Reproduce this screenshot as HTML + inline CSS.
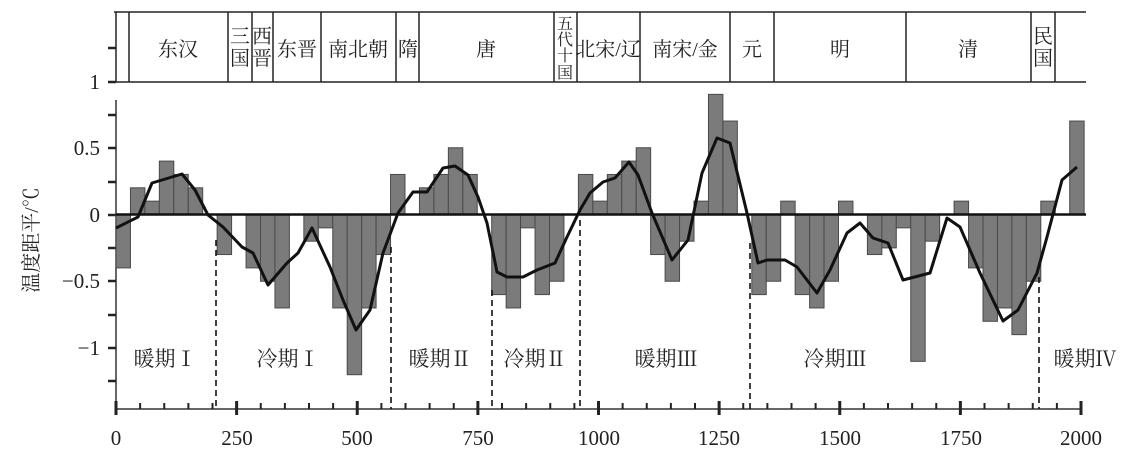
<!DOCTYPE html>
<html><head><meta charset="utf-8"><style>
html,body{margin:0;padding:0;background:#fff;}
svg{display:block;}
text{font-family:"Liberation Serif","Noto Serif CJK SC",serif;fill:#222;}
</style></head><body>
<svg width="1125" height="455" viewBox="0 0 1125 455" xmlns="http://www.w3.org/2000/svg">
<g stroke="#222" stroke-width="1.5" fill="none">
<line x1="114" y1="12" x2="1086" y2="12"/>
<line x1="114" y1="82" x2="1086" y2="82"/>
<line x1="116" y1="12" x2="116" y2="82"/>
<line x1="129" y1="12" x2="129" y2="82"/>
<line x1="228" y1="12" x2="228" y2="82"/>
<line x1="252" y1="12" x2="252" y2="82"/>
<line x1="273" y1="12" x2="273" y2="82"/>
<line x1="321" y1="12" x2="321" y2="82"/>
<line x1="396" y1="12" x2="396" y2="82"/>
<line x1="419" y1="12" x2="419" y2="82"/>
<line x1="554" y1="12" x2="554" y2="82"/>
<line x1="577" y1="12" x2="577" y2="82"/>
<line x1="640" y1="12" x2="640" y2="82"/>
<line x1="730" y1="12" x2="730" y2="82"/>
<line x1="774" y1="12" x2="774" y2="82"/>
<line x1="906" y1="12" x2="906" y2="82"/>
<line x1="1031" y1="12" x2="1031" y2="82"/>
<line x1="1055" y1="12" x2="1055" y2="82"/>
</g>
<g font-size="20" text-anchor="middle">
<text x="178" y="56">东汉</text>
<text x="297" y="56">东晋</text>
<text x="358" y="56">南北朝</text>
<text x="408" y="56">隋</text>
<text x="486" y="56">唐</text>
<text x="608" y="56">北宋/辽</text>
<text x="685" y="56">南宋/金</text>
<text x="752" y="56">元</text>
<text x="840" y="56">明</text>
<text x="968" y="56">清</text>
<text x="240" y="43">三</text><text x="240" y="65">国</text>
<text x="262" y="43">西</text><text x="262" y="65">晋</text>
<text x="1043" y="43">民</text><text x="1043" y="65">国</text>
</g>
<g font-size="16" text-anchor="middle">
<text x="565" y="29">五</text><text x="565" y="45">代</text><text x="565" y="61">十</text><text x="565" y="78">国</text>
</g>
<g stroke="#333" stroke-width="1.5">
<line x1="116" y1="100" x2="116" y2="409"/>
<line x1="116" y1="409" x2="1082" y2="409"/>
</g>
<g stroke="#222" stroke-width="2.5">
<line x1="108" y1="48" x2="116" y2="48"/>
<line x1="108" y1="82" x2="116" y2="82"/>
<line x1="108" y1="115" x2="116" y2="115"/>
<line x1="108" y1="148" x2="116" y2="148"/>
<line x1="108" y1="182" x2="116" y2="182"/>
<line x1="108" y1="215" x2="116" y2="215"/>
<line x1="108" y1="248" x2="116" y2="248"/>
<line x1="108" y1="281" x2="116" y2="281"/>
<line x1="108" y1="315" x2="116" y2="315"/>
<line x1="108" y1="348" x2="116" y2="348"/>
<line x1="108" y1="381" x2="116" y2="381"/>
</g>
<g font-size="21" text-anchor="end">
<text x="100" y="89">1</text>
<text x="100" y="155">0.5</text>
<text x="100" y="222">0</text>
<text x="100" y="288">−0.5</text>
<text x="100" y="355">−1</text>
</g>
<text font-size="20" text-anchor="middle" transform="translate(38,240) rotate(-90)">温度距平/℃</text>
<g id="xt" stroke="#222" stroke-width="2"></g>
<g font-size="21" text-anchor="middle">
<text x="116" y="445">0</text>
<text x="237" y="445">250</text>
<text x="357" y="445">500</text>
<text x="478" y="445">750</text>
<text x="599" y="445">1000</text>
<text x="719" y="445">1250</text>
<text x="840" y="445">1500</text>
<text x="961" y="445">1750</text>
<text x="1081" y="445">2000</text>
</g>
<g id="bars" fill="#7b7b7b" stroke="#4a4a4a" stroke-width="1"></g>
<line x1="116" y1="214.5" x2="1086" y2="214.5" stroke="#111" stroke-width="2.5"/>
<g stroke="#111" stroke-width="1.6" stroke-dasharray="6,4">
<line x1="216" y1="240" x2="216" y2="409"/>
<line x1="391" y1="247" x2="391" y2="409"/>
<line x1="492" y1="290" x2="492" y2="409"/>
<line x1="580" y1="220" x2="580" y2="409"/>
<line x1="750" y1="243" x2="750" y2="409"/>
<line x1="1039" y1="277" x2="1039" y2="409"/>
</g>
<polyline fill="none" stroke="#111" stroke-width="3" stroke-linejoin="round" points="116,228 138,217 152,183 182,174 195,190 208,215 223,227 242,247 253,253 268,285 287,263 298,253 312,228 330,267 343,300 356,330 370,310 383,253 398,213 413,192 427,192 443,168 455,166 468,175 478,197 487,223 497,272 507,277 523,277 537,270 555,263 567,237 580,210 590,193 603,182 615,178 629,162 638,175 652,213 672,260 688,240 702,173 717,138 730,143 747,213 758,263 767,260 785,260 797,267 817,293 830,270 847,233 860,223 873,238 888,243 903,280 930,273 947,218 960,227 980,273 1003,321 1018,310 1037,273 1047,237 1062,180 1077,167"/>
<g font-size="21" text-anchor="middle">
<text x="165" y="366">暖期Ⅰ</text>
<text x="288" y="366">冷期Ⅰ</text>
<text x="440" y="366">暖期Ⅱ</text>
<text x="535" y="366">冷期Ⅱ</text>
<text x="666" y="366">暖期Ⅲ</text>
<text x="835" y="366">冷期Ⅲ</text>
<text x="1085" y="366">暖期Ⅳ</text>
</g>
</svg>
<script>
var v=[-0.4,0.2,0.1,0.4,0.3,0.2,0,-0.3,0,-0.4,-0.5,-0.7,0,-0.2,-0.1,-0.7,-1.2,-0.7,-0.3,0.3,0,0.2,0.3,0.5,0.3,0,-0.6,-0.7,-0.1,-0.6,-0.5,0,0.3,0.1,0.3,0.4,0.5,-0.3,-0.5,-0.2,0.1,0.9,0.7,0,-0.6,-0.5,0.1,-0.6,-0.7,-0.5,0.1,0,-0.3,-0.25,-0.1,-1.1,-0.2,0,0.1,-0.4,-0.8,-0.7,-0.9,-0.5,0.1,0,0.7];
var ns="http://www.w3.org/2000/svg",g=document.getElementById("bars"),w=14.45,z=214.5,u=133.5;
v.forEach(function(d,i){if(!d)return;var r=document.createElementNS(ns,"rect");var x=116+i*w;r.setAttribute("x",x);r.setAttribute("width",w);var h=Math.abs(d)*u;r.setAttribute("y",d>0?z-h:z);r.setAttribute("height",h);g.appendChild(r);});
var t=document.getElementById("xt");
for(var k=0;k<=40;k++){var x=116+k*24.125;var l=document.createElementNS(ns,"line");l.setAttribute("x1",x);l.setAttribute("x2",x);l.setAttribute("y1",k%5==0?401:403);l.setAttribute("y2",k%5==0?415:409);l.setAttribute("stroke-width",k%5==0?3:2);t.appendChild(l);}
</script>
</body></html>
